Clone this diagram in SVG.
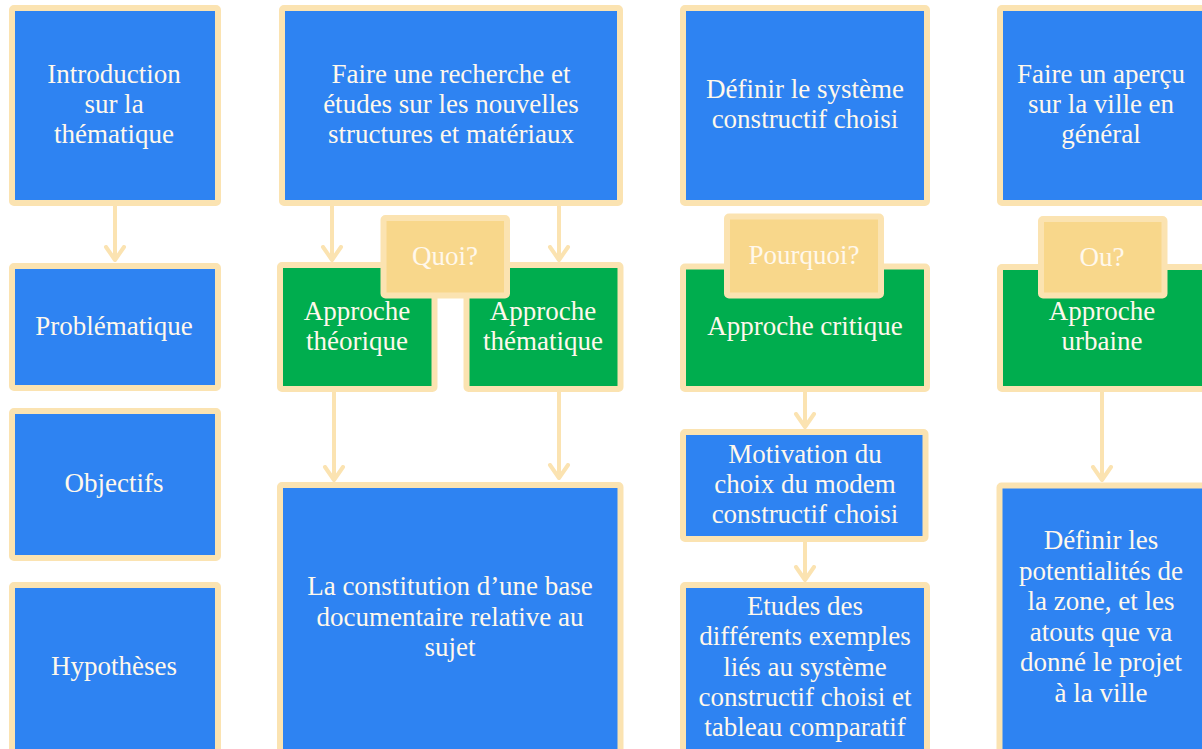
<svg xmlns="http://www.w3.org/2000/svg" width="1202" height="749" viewBox="0 0 1202 749">
<style>
.b{fill:#2E83F2;stroke:#FBE3B1;stroke-width:6}
.g{fill:#00AD4E;stroke:#FBE3B1;stroke-width:6}
.y{fill:#F8D78B;stroke:#FBE3B1;stroke-width:6}
text{font-family:"Liberation Serif","DejaVu Serif",serif;font-size:27px;fill:#FFF8EC;text-anchor:middle}
.c line{stroke:#FBE3B1;stroke-width:4;marker-end:url(#ah)}
</style>
<defs>
<marker id="ah" markerUnits="userSpaceOnUse" markerWidth="30" markerHeight="30" viewBox="-15 -15 30 30" refX="0" refY="0" orient="auto">
<path d="M-13,-9 L0,0 L-13,9" fill="none" stroke="#FBE3B1" stroke-width="4" stroke-linecap="round" stroke-linejoin="round"/>
</marker>
</defs>
<rect width="1202" height="749" fill="#FFFFFF"/>
<g class="c" id="connectors">
<line x1="115" y1="206" x2="115" y2="260"/>
<line x1="332" y1="206" x2="332" y2="260"/>
<line x1="559" y1="206" x2="559" y2="260"/>
<line x1="334" y1="392" x2="334" y2="480"/>
<line x1="559" y1="386" x2="559" y2="478"/>
<line x1="805" y1="392" x2="805" y2="427"/>
<line x1="805" y1="542" x2="805" y2="580"/>
<line x1="1102" y1="392" x2="1102" y2="480"/>
</g>
<g id="intro"><rect class="b" x="12" y="8" width="206" height="195" rx="2"/>
<text x="114" y="83">Introduction</text><text x="114" y="113">sur la</text><text x="114" y="143">thématique</text></g>
<g id="problematique"><rect class="b" x="12" y="266" width="206" height="122" rx="2"/>
<text x="114" y="335">Problématique</text></g>
<g id="objectifs"><rect class="b" x="12" y="411" width="206" height="147" rx="2"/>
<text x="114" y="492">Objectifs</text></g>
<g id="hypotheses"><rect class="b" x="12" y="585" width="206" height="168" rx="2"/>
<text x="114" y="675">Hypothèses</text></g>
<g id="recherche"><rect class="b" x="282" y="8" width="338" height="195" rx="2"/>
<text x="451" y="83">Faire une recherche et</text><text x="451" y="113">études sur les nouvelles</text><text x="451" y="143">structures et matériaux</text></g>
<g id="theorique"><rect class="g" x="280" y="265" width="154.5" height="124" rx="2"/>
<text x="357" y="320">Approche</text><text x="357" y="350">théorique</text></g>
<g id="thematique"><rect class="g" x="466.5" y="265" width="154" height="124" rx="2"/>
<text x="543" y="320">Approche</text><text x="543" y="350">thématique</text></g>
<g id="quoi"><rect class="y" x="383.5" y="218" width="123.5" height="77.5" rx="2"/>
<text x="445" y="265">Quoi?</text></g>
<g id="base"><rect class="b" x="280" y="485" width="340.5" height="268" rx="2"/>
<text x="450" y="595">La constitution d’une base</text><text x="450" y="626">documentaire relative au</text><text x="450" y="656">sujet</text></g>
<g id="systeme"><rect class="b" x="683" y="8" width="244" height="195" rx="2"/>
<text x="805" y="98">Définir le système</text><text x="805" y="128">constructif choisi</text></g>
<g id="critique"><rect class="g" x="683" y="266.5" width="244" height="122.5" rx="2"/>
<text x="805" y="335">Approche critique</text></g>
<g id="pourquoi"><rect class="y" x="727" y="216.5" width="154" height="79" rx="2"/>
<text x="804" y="264">Pourquoi?</text></g>
<g id="motivation"><rect class="b" x="683" y="432" width="242.5" height="107" rx="2"/>
<text x="805" y="463">Motivation du</text><text x="805" y="493">choix du modem</text><text x="805" y="523">constructif choisi</text></g>
<g id="etudes"><rect class="b" x="683" y="585" width="244" height="168" rx="2"/>
<text x="805" y="615">Etudes des</text><text x="805" y="645">différents exemples</text><text x="805" y="676">liés au système</text><text x="805" y="706">constructif choisi et</text><text x="805" y="736">tableau comparatif</text></g>
<g id="apercu"><rect class="b" x="1000" y="8" width="208" height="195" rx="2"/>
<text x="1101" y="83">Faire un aperçu</text><text x="1101" y="113">sur la ville en</text><text x="1101" y="143">général</text></g>
<g id="urbaine"><rect class="g" x="1000" y="267" width="208" height="122" rx="2"/>
<text x="1102" y="320">Approche</text><text x="1102" y="350">urbaine</text></g>
<g id="ou"><rect class="y" x="1041" y="219" width="123.5" height="76.5" rx="2"/>
<text x="1102" y="266">Ou?</text></g>
<g id="potentialites"><rect class="b" x="999.5" y="485.5" width="208" height="268" rx="2"/>
<text x="1101" y="549">Définir les</text><text x="1101" y="580">potentialités de</text><text x="1101" y="610">la zone, et les</text><text x="1101" y="641">atouts que va</text><text x="1101" y="671">donné le projet</text><text x="1101" y="702">à la ville</text></g>
</svg>
